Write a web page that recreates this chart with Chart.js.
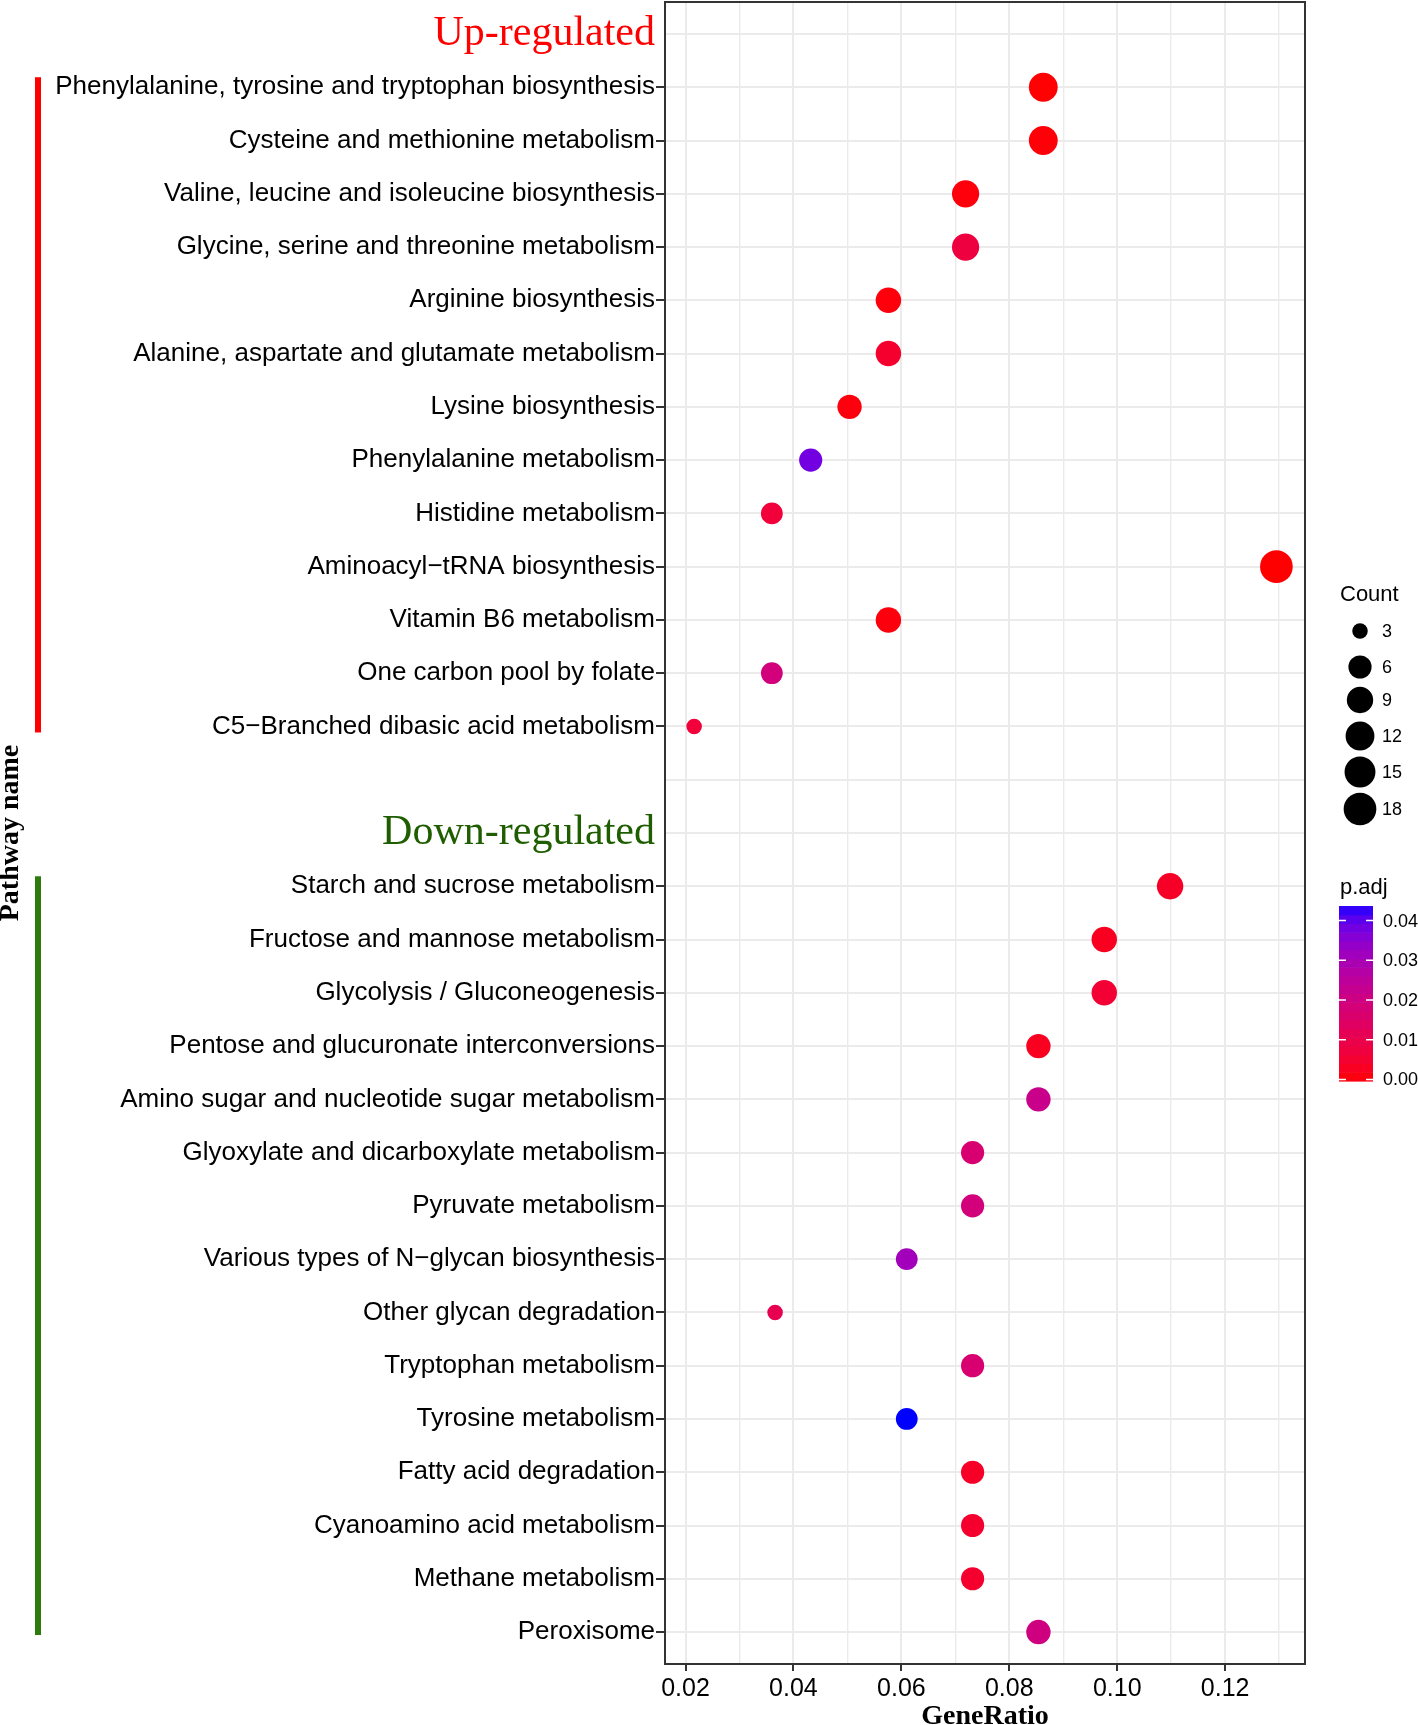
<!DOCTYPE html>
<html>
<head>
<meta charset="utf-8">
<title>KEGG enrichment dot plot</title>
<script src="https://cdn.jsdelivr.net/npm/chart.js@4.4.1/dist/chart.umd.min.js"></script>
<style>
    html, body { margin: 0; padding: 0; background: #ffffff; }
    #wrap { width: 1418px; height: 1725px; position: relative; }
</style>
</head>
<body>
<div id="wrap"><canvas id="dotChart"></canvas></div>
<script>
// --- data ---
const upPathways = [
    'Phenylalanine, tyrosine and tryptophan biosynthesis',
    'Cysteine and methionine metabolism',
    'Valine, leucine and isoleucine biosynthesis',
    'Glycine, serine and threonine metabolism',
    'Arginine biosynthesis',
    'Alanine, aspartate and glutamate metabolism',
    'Lysine biosynthesis',
    'Phenylalanine metabolism',
    'Histidine metabolism',
    'Aminoacyl\u2212tRNA biosynthesis',
    'Vitamin B6 metabolism',
    'One carbon pool by folate',
    'C5\u2212Branched dibasic acid metabolism'
];
const upRatio = [0.0863, 0.0863, 0.0719, 0.0719, 0.0576, 0.0576, 0.0504, 0.0432, 0.0360, 0.1295, 0.0576, 0.0360, 0.0216];
const upCount = [12, 12, 10, 10, 8, 8, 7, 6, 5, 18, 8, 5, 3];
const upPadj = [0.0002, 0.0005, 0.0008, 0.008, 0.0008, 0.005, 0.001, 0.038, 0.007, 0.0000, 0.001, 0.019, 0.007];

const downPathways = [
    'Starch and sucrose metabolism',
    'Fructose and mannose metabolism',
    'Glycolysis / Gluconeogenesis',
    'Pentose and glucuronate interconversions',
    'Amino sugar and nucleotide sugar metabolism',
    'Glyoxylate and dicarboxylate metabolism',
    'Pyruvate metabolism',
    'Various types of N\u2212glycan biosynthesis',
    'Other glycan degradation',
    'Tryptophan metabolism',
    'Tyrosine metabolism',
    'Fatty acid degradation',
    'Cyanoamino acid metabolism',
    'Methane metabolism',
    'Peroxisome'
];
const downRatio = [0.1098, 0.0976, 0.0976, 0.0854, 0.0854, 0.0732, 0.0732, 0.0610, 0.0366, 0.0732, 0.0610, 0.0732, 0.0732, 0.0732, 0.0854];
const downCount = [9, 8, 8, 7, 7, 6, 6, 5, 3, 6, 5, 6, 6, 6, 7];
const downPadj = [0.004, 0.003, 0.006, 0.003, 0.022, 0.017, 0.019, 0.031, 0.011, 0.017, 0.0433, 0.004, 0.005, 0.005, 0.020];

const xTicks = [0.02, 0.03, 0.04, 0.05, 0.06, 0.07, 0.08, 0.09, 0.10, 0.11, 0.12, 0.13];
const xTickLabels = ['0.02', '', '0.04', '', '0.06', '', '0.08', '', '0.10', '', '0.12', ''];
const sizeBreaks = [3, 6, 9, 12, 15, 18];
const padjBreaks = [0.00, 0.01, 0.02, 0.03, 0.04];
const padjBreakLabels = ['0.00', '0.01', '0.02', '0.03', '0.04'];

const countRange = [3, 18];
const padjRange = [0, 0.0433];

// rows: header, up pathways, spacer, header, down pathways
const rowLabels = ['Up-regulated', ...upPathways, '', 'Down-regulated', ...downPathways];
const UP_ROW = 0;
const SPACER_ROW = upPathways.length + 1;
const DOWN_ROW = upPathways.length + 2;

const SANS = '"Liberation Sans", Arial, sans-serif';
const SERIF = '"Liberation Serif", "Times New Roman", serif';
const UP_RED = '#FF0000';
const DOWN_GREEN = '#1F5E00';
const BAR_GREEN = '#2E7B0D';

// --- colour ramp red -> blue in CIELAB, like ggplot's gradient ---
const WHITE = [0.95047, 1, 1.08883];
function toLinear(c) { c /= 255; return c <= 0.04045 ? c / 12.92 : Math.pow((c + 0.055) / 1.055, 2.4); }
function fromLinear(c) {
    const v = c <= 0.0031308 ? 12.92 * c : 1.055 * Math.pow(c, 1 / 2.4) - 0.055;
    return Math.round(Math.max(0, Math.min(1, v)) * 255);
}
function rgbToLab(rgb) {
    const R = toLinear(rgb[0]), G = toLinear(rgb[1]), B = toLinear(rgb[2]);
    const X = (0.4124 * R + 0.3576 * G + 0.1805 * B) / WHITE[0];
    const Y = (0.2126 * R + 0.7152 * G + 0.0722 * B) / WHITE[1];
    const Z = (0.0193 * R + 0.1192 * G + 0.9505 * B) / WHITE[2];
    const f = t => t > 0.008856 ? Math.cbrt(t) : 7.787 * t + 16 / 116;
    const fx = f(X), fy = f(Y), fz = f(Z);
    return [116 * fy - 16, 500 * (fx - fy), 200 * (fy - fz)];
}
function labToRgb(lab) {
    const fy = (lab[0] + 16) / 116, fx = fy + lab[1] / 500, fz = fy - lab[2] / 200;
    const inv = t => t * t * t > 0.008856 ? t * t * t : (t - 16 / 116) / 7.787;
    const X = inv(fx) * WHITE[0], Y = inv(fy) * WHITE[1], Z = inv(fz) * WHITE[2];
    const R = 3.2406 * X - 1.5372 * Y - 0.4986 * Z;
    const G = -0.9689 * X + 1.8758 * Y + 0.0415 * Z;
    const B = 0.0557 * X - 0.2040 * Y + 1.0570 * Z;
    return [fromLinear(R), fromLinear(G), fromLinear(B)];
}
const LOW_LAB = rgbToLab([255, 0, 0]);
const HIGH_LAB = rgbToLab([0, 0, 255]);

function padjColor(p) {
    const t = Math.max(0, Math.min(1, (p - padjRange[0]) / (padjRange[1] - padjRange[0])));
    const lab = LOW_LAB.map((v, i) => v + (HIGH_LAB[i] - v) * t);
    const c = labToRgb(lab);
    return `rgb(${c[0]}, ${c[1]}, ${c[2]})`;
}

// area scale, diameter 15.5px .. 32.7px
function countRadius(n) {
    const t = (n - countRange[0]) / (countRange[1] - countRange[0]);
    return (15.5 + 17.2 * Math.sqrt(Math.max(0, t))) / 2;
}

const points = [];
upPathways.forEach((name, i) => {
    points.push({ x: upRatio[i], y: UP_ROW + 1 + i, count: upCount[i], padj: upPadj[i] });
});
downPathways.forEach((name, i) => {
    points.push({ x: downRatio[i], y: DOWN_ROW + 1 + i, count: downCount[i], padj: downPadj[i] });
});

function isHeaderRow(i) {
    return i === UP_ROW || i === SPACER_ROW || i === DOWN_ROW;
}

// panel frame, group bars and the two legends
const decorPlugin = {
    id: 'decor',
    afterDraw(chart) {
        const ctx = chart.ctx;
        const area = chart.chartArea;
        const yScale = chart.scales.y;
        ctx.save();

        ctx.strokeStyle = '#333333';
        ctx.lineWidth = 2;
        ctx.strokeRect(area.left, area.top, area.right - area.left, area.bottom - area.top);

        const upTop = yScale.getPixelForValue(UP_ROW + 1) - 10;
        const upBottom = yScale.getPixelForValue(UP_ROW + upPathways.length) + 6;
        ctx.fillStyle = UP_RED;
        ctx.fillRect(35, upTop, 6, upBottom - upTop);

        const downTop = yScale.getPixelForValue(DOWN_ROW + 1) - 10;
        const downBottom = yScale.getPixelForValue(DOWN_ROW + downPathways.length) + 3;
        ctx.fillStyle = BAR_GREEN;
        ctx.fillRect(35, downTop, 6, downBottom - downTop);

        // size legend
        ctx.fillStyle = '#000000';
        ctx.textBaseline = 'middle';
        ctx.textAlign = 'left';
        ctx.font = `22px ${SANS}`;
        ctx.fillText('Count', 1340, 595);
        const sizeY = [631, 667, 700, 736, 772, 809];
        ctx.font = `18px ${SANS}`;
        sizeBreaks.forEach((n, i) => {
            ctx.beginPath();
            ctx.arc(1360, sizeY[i], countRadius(n), 0, Math.PI * 2);
            ctx.fill();
            ctx.fillText(String(n), 1382, sizeY[i] + 1);
        });

        // colour bar legend
        ctx.font = `22px ${SANS}`;
        ctx.fillText('p.adj', 1340, 888);
        const barX = 1339, barW = 34, barTop = 906, barBottom = 1081;
        const bins = 20;
        const binH = (barBottom - barTop) / bins;
        for (let b = 0; b < bins; b++) {
            const p = padjRange[0] + (padjRange[1] - padjRange[0]) * (b + 0.5) / bins;
            ctx.fillStyle = padjColor(p);
            ctx.fillRect(barX, barBottom - (b + 1) * binH, barW, binH + 0.6);
        }
        ctx.strokeStyle = '#ffffff';
        ctx.lineWidth = 1.5;
        ctx.fillStyle = '#000000';
        ctx.font = `18px ${SANS}`;
        padjBreaks.forEach((v, i) => {
            const ty = barBottom - 1.5 - (v - padjRange[0]) / (padjRange[1] - padjRange[0]) * (barBottom - barTop - 3);
            ctx.beginPath();
            ctx.moveTo(barX, ty); ctx.lineTo(barX + 7, ty);
            ctx.moveTo(barX + barW - 7, ty); ctx.lineTo(barX + barW, ty);
            ctx.stroke();
            ctx.fillText(padjBreakLabels[i], 1383, ty + 1);
        });

        ctx.restore();
    }
};

const ctx = document.getElementById('dotChart').getContext('2d');
const dotChart = new Chart(ctx, {
    type: 'scatter',
    data: {
        datasets: [{
            label: 'Pathways',
            data: points,
            pointRadius: points.map(p => countRadius(p.count)),
            pointHoverRadius: points.map(p => countRadius(p.count)),
            pointBackgroundColor: points.map(p => padjColor(p.padj)),
            pointBorderColor: points.map(p => padjColor(p.padj)),
            pointBorderWidth: 0
        }]
    },
    options: {
        responsive: true,
        maintainAspectRatio: false,
        animation: false,
        devicePixelRatio: 1,
        layout: {
            autoPadding: false,
            padding: { left: 0, right: 113, top: 2, bottom: 0 }
        },
        plugins: {
            legend: { display: false },
            tooltip: { enabled: false }
        },
        scales: {
            x: {
                type: 'linear',
                min: 0.0162,
                max: 0.1348,
                afterBuildTicks: axis => { axis.ticks = xTicks.map(v => ({ value: v })); },
                afterFit: axis => { axis.height = 61; },
                border: { display: false },
                grid: {
                    color: '#EBEBEB',
                    lineWidth: c => (xTickLabels[c.index] ? 2 : 1.4),
                    tickColor: c => (xTickLabels[c.index] ? '#333333' : 'rgba(0,0,0,0)'),
                    tickLength: 7,
                    tickWidth: 2
                },
                ticks: {
                    autoSkip: false,
                    maxRotation: 0,
                    padding: 3,
                    color: '#000000',
                    font: { family: SANS, size: 25 },
                    callback: (value, index) => xTickLabels[index]
                },
                title: {
                    display: true,
                    text: 'GeneRatio',
                    color: '#000000',
                    font: { family: SERIF, size: 28, weight: 'bold', lineHeight: 0.6 },
                    padding: 0
                }
            },
            y: {
                type: 'linear',
                reverse: true,
                min: -0.6,
                max: rowLabels.length - 1 + 0.6,
                afterBuildTicks: axis => { axis.ticks = rowLabels.map((_, i) => ({ value: i })); },
                afterFit: axis => { axis.width = 665; },
                border: { display: false },
                grid: {
                    color: '#EBEBEB',
                    lineWidth: 2,
                    tickColor: c => (isHeaderRow(c.index) ? 'rgba(0,0,0,0)' : '#333333'),
                    tickLength: 9,
                    tickWidth: 2
                },
                ticks: {
                    autoSkip: false,
                    padding: 1,
                    color: c => (c.index === UP_ROW ? UP_RED : c.index === DOWN_ROW ? DOWN_GREEN : '#000000'),
                    // tiny lineHeight keeps Chart.js from padding the panel for label height
                    font: c => (c.index === UP_ROW || c.index === DOWN_ROW
                        ? { family: SERIF, size: 42, lineHeight: 0.05 }
                        : { family: SANS, size: 26, lineHeight: 0.05 }),
                    callback: (value, index) => rowLabels[index]
                },
                title: {
                    display: true,
                    text: 'Pathway name',
                    color: '#000000',
                    font: { family: SERIF, size: 28, weight: 'bold', lineHeight: 0.8 },
                    padding: 0
                }
            }
        }
    },
    plugins: [decorPlugin]
});
</script>
</body>
</html>
